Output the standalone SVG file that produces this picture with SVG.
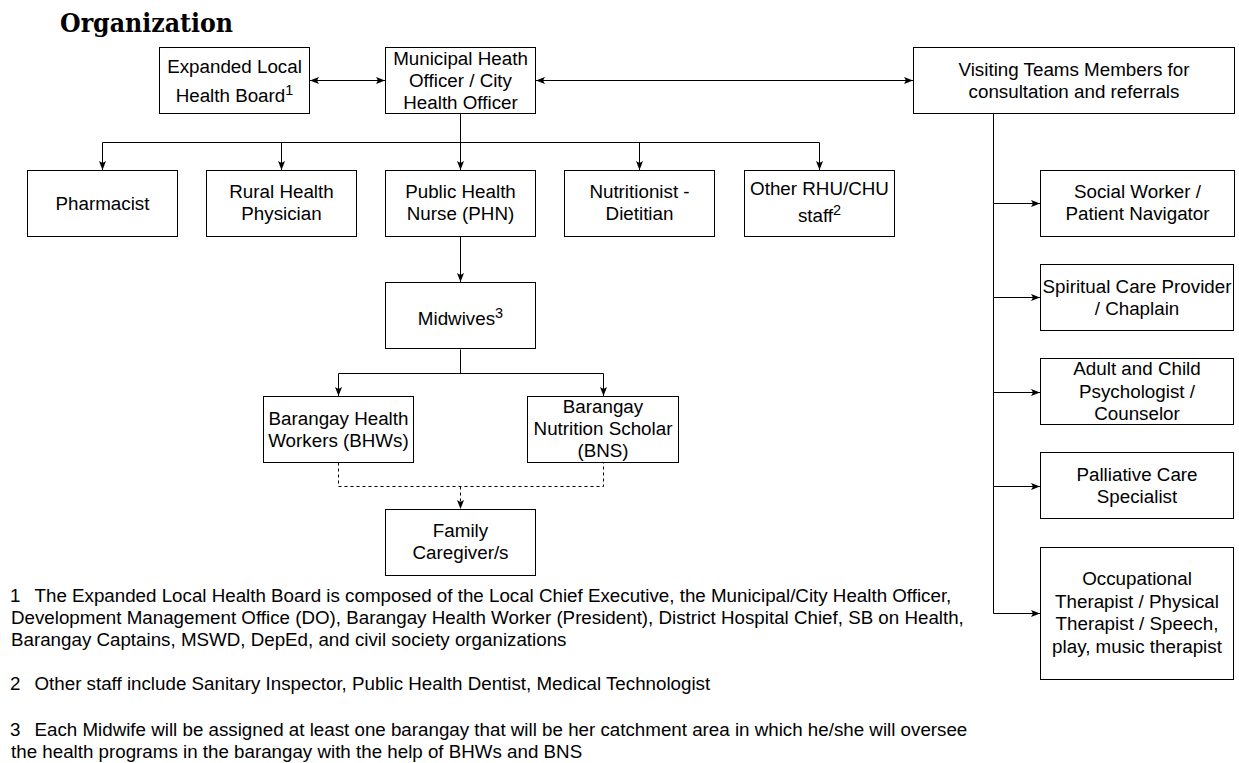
<svg xmlns="http://www.w3.org/2000/svg" width="1239" height="763" viewBox="0 0 1239 763">
  <style>
    .box { fill: #fff; stroke: #000; stroke-width: 1; }
    .lbl { font-family: "Liberation Sans", Arial, sans-serif; font-size: 18.8px; fill: #000; text-anchor: middle; }
    .sup { font-size: 14.5px; }
    .edge { fill: none; stroke: #000; stroke-width: 1; }
    .dash { stroke-dasharray: 3 3; }
    .note { font-family: "Liberation Sans", Arial, sans-serif; font-size: 18.75px; fill: #000; }
    .title { font-family: "DejaVu Serif", "Liberation Serif", serif; font-weight: bold; font-size: 26px; fill: #000; }
  </style>
  <defs>
    <marker id="arr" viewBox="0 0 10 8" refX="9.5" refY="4" markerWidth="10" markerHeight="8" orient="auto-start-reverse" markerUnits="userSpaceOnUse">
      <path d="M0.5,0.5 L9.5,4 L0.5,7.5 L2.5,4 z" fill="#000"/>
    </marker>
  </defs>
  <rect width="1239" height="763" fill="#fff"/>

  <text class="title" x="60" y="32" textLength="173" lengthAdjust="spacingAndGlyphs">Organization</text>

  <!-- connectors -->
  <g id="connectors">
    <path class="edge" d="M310,80.5 H385" marker-start="url(#arr)" marker-end="url(#arr)"/>
    <path class="edge" d="M536,80.5 H913" marker-start="url(#arr)" marker-end="url(#arr)"/>
    <path class="edge" d="M460.5,113.5 V170" marker-end="url(#arr)"/>
    <path class="edge" d="M102.5,170 V142.5 H819.5 V170" marker-start="url(#arr)" marker-end="url(#arr)"/>
    <path class="edge" d="M281.5,142.5 V170" marker-end="url(#arr)"/>
    <path class="edge" d="M639.5,142.5 V170" marker-end="url(#arr)"/>
    <path class="edge" d="M460.5,236.5 V282" marker-end="url(#arr)"/>
    <path class="edge" d="M460.5,349.5 V373.5"/>
    <path class="edge" d="M338.5,396 V373.5 H603.5 V396" marker-start="url(#arr)" marker-end="url(#arr)"/>
    <path class="edge dash" d="M338.5,462.5 V486.5 H603.5 V462.5"/>
    <path class="edge dash" d="M460.5,486.5 V509" marker-end="url(#arr)"/>
    <path class="edge" d="M993.5,113.5 V613.5"/>
    <path class="edge" d="M993.5,203.5 H1040" marker-end="url(#arr)"/>
    <path class="edge" d="M993.5,297.5 H1040" marker-end="url(#arr)"/>
    <path class="edge" d="M993.5,392.5 H1040" marker-end="url(#arr)"/>
    <path class="edge" d="M993.5,486.5 H1040" marker-end="url(#arr)"/>
    <path class="edge" d="M993.5,613.5 H1040" marker-end="url(#arr)"/>
  </g>

  <!-- top row -->
  <g id="elhb">
    <rect class="box" x="159.5" y="47.5" width="150" height="66"/>
    <text class="lbl" x="234.5" y="72.7">Expanded Local</text>
    <text class="lbl" x="234.5" y="101.7">Health Board<tspan class="sup" dy="-7">1</tspan></text>
  </g>
  <g id="mho">
    <rect class="box" x="385.5" y="47.5" width="150" height="66"/>
    <text class="lbl" x="460.5" y="64.5">Municipal Heath</text>
    <text class="lbl" x="460.5" y="86.5">Officer / City</text>
    <text class="lbl" x="460.5" y="108.5">Health Officer</text>
  </g>
  <g id="visiting">
    <rect class="box" x="913.5" y="47.5" width="321" height="66"/>
    <text class="lbl" x="1074" y="75.5">Visiting Teams Members for</text>
    <text class="lbl" x="1074" y="97.5">consultation and referrals</text>
  </g>

  <!-- staff row -->
  <g id="pharmacist">
    <rect class="box" x="27.5" y="170.5" width="150" height="66"/>
    <text class="lbl" x="102.5" y="209.5">Pharmacist</text>
  </g>
  <g id="rhp">
    <rect class="box" x="206.5" y="170.5" width="150" height="66"/>
    <text class="lbl" x="281.5" y="198.3">Rural Health</text>
    <text class="lbl" x="281.5" y="220.3">Physician</text>
  </g>
  <g id="phn">
    <rect class="box" x="385.5" y="170.5" width="150" height="66"/>
    <text class="lbl" x="460.5" y="198.3">Public Health</text>
    <text class="lbl" x="460.5" y="220.3">Nurse (PHN)</text>
  </g>
  <g id="nutritionist">
    <rect class="box" x="564.5" y="170.5" width="150" height="66"/>
    <text class="lbl" x="639.5" y="198.3">Nutritionist -</text>
    <text class="lbl" x="639.5" y="220.3">Dietitian</text>
  </g>
  <g id="other-staff">
    <rect class="box" x="744.5" y="170.5" width="150" height="66"/>
    <text class="lbl" x="819.5" y="195">Other RHU/CHU</text>
    <text class="lbl" x="819.5" y="221.5">staff<tspan class="sup" dy="-7">2</tspan></text>
  </g>

  <!-- midwife level -->
  <g id="midwives">
    <rect class="box" x="385.5" y="282.5" width="150" height="66"/>
    <text class="lbl" x="460.5" y="325">Midwives<tspan class="sup" dy="-7">3</tspan></text>
  </g>
  <g id="bhw">
    <rect class="box" x="263.5" y="396.5" width="150" height="66"/>
    <text class="lbl" x="338.5" y="424.7">Barangay Health</text>
    <text class="lbl" x="338.5" y="447">Workers (BHWs)</text>
  </g>
  <g id="bns">
    <rect class="box" x="527.5" y="396.5" width="151" height="66"/>
    <text class="lbl" x="603" y="412.7">Barangay</text>
    <text class="lbl" x="603" y="435">Nutrition Scholar</text>
    <text class="lbl" x="603" y="457">(BNS)</text>
  </g>
  <g id="family">
    <rect class="box" x="385.5" y="509.5" width="150" height="66"/>
    <text class="lbl" x="460.5" y="536.7">Family</text>
    <text class="lbl" x="460.5" y="558.5">Caregiver/s</text>
  </g>

  <!-- visiting team members -->
  <g id="social-worker">
    <rect class="box" x="1040.5" y="170.5" width="194" height="66"/>
    <text class="lbl" x="1137.5" y="198.3">Social Worker /</text>
    <text class="lbl" x="1137.5" y="220.3">Patient Navigator</text>
  </g>
  <g id="chaplain">
    <rect class="box" x="1040.5" y="264.5" width="193" height="66"/>
    <text class="lbl" x="1137" y="292.7">Spiritual Care Provider</text>
    <text class="lbl" x="1137" y="315">/ Chaplain</text>
  </g>
  <g id="psychologist">
    <rect class="box" x="1040.5" y="358.5" width="193" height="66"/>
    <text class="lbl" x="1137" y="375">Adult and Child</text>
    <text class="lbl" x="1137" y="397.7">Psychologist /</text>
    <text class="lbl" x="1137" y="420">Counselor</text>
  </g>
  <g id="palliative">
    <rect class="box" x="1040.5" y="452.5" width="193" height="66"/>
    <text class="lbl" x="1137" y="480.7">Palliative Care</text>
    <text class="lbl" x="1137" y="503">Specialist</text>
  </g>
  <g id="therapists">
    <rect class="box" x="1040.5" y="547.5" width="193" height="132"/>
    <text class="lbl" x="1137" y="585">Occupational</text>
    <text class="lbl" x="1137" y="607.7">Therapist / Physical</text>
    <text class="lbl" x="1137" y="630">Therapist / Speech,</text>
    <text class="lbl" x="1137" y="652.7">play, music therapist</text>
  </g>

  <!-- footnotes -->
  <g id="notes">
    <text class="note" x="10" y="602">1</text>
    <text class="note" x="34.5" y="602">The Expanded Local Health Board is composed of the Local Chief Executive, the Municipal/City Health Officer,</text>
    <text class="note" x="11" y="624">Development Management Office (DO), Barangay Health Worker (President), District Hospital Chief, SB on Health,</text>
    <text class="note" x="11" y="646">Barangay Captains, MSWD, DepEd, and civil society organizations</text>
    <text class="note" x="10" y="690">2</text>
    <text class="note" x="34.5" y="690">Other staff include Sanitary Inspector, Public Health Dentist, Medical Technologist</text>
    <text class="note" x="10" y="736">3</text>
    <text class="note" x="34.5" y="736">Each Midwife will be assigned at least one barangay that will be her catchment area in which he/she will oversee</text>
    <text class="note" x="11" y="758">the health programs in the barangay with the help of BHWs and BNS</text>
  </g>
</svg>
